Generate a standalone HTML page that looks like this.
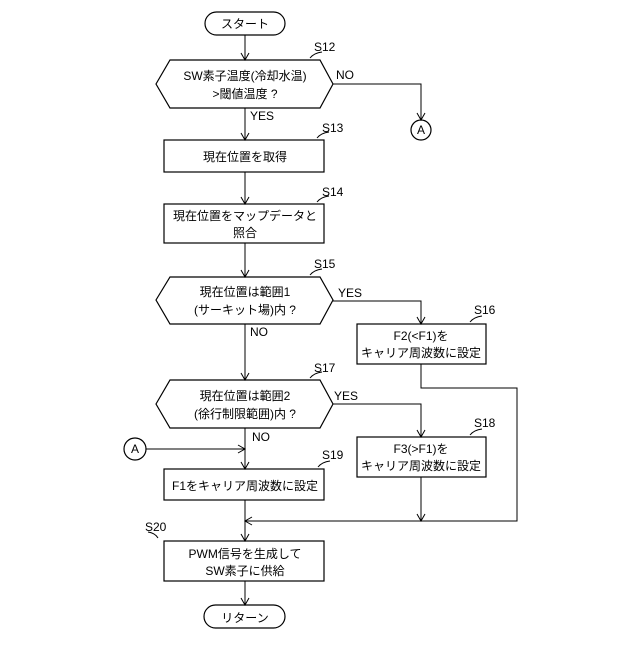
<!DOCTYPE html>
<html><head><meta charset="utf-8"><style>
body{margin:0;background:#fff}
text{font-family:"Liberation Sans","Noto Sans CJK JP",sans-serif;font-size:12px;fill:#000}
.s{font-size:12px}
</style></head><body>
<svg width="640" height="640" viewBox="0 0 640 640" xmlns="http://www.w3.org/2000/svg">
<defs><marker id="a" markerWidth="10" markerHeight="10" refX="9" refY="5" orient="auto" markerUnits="userSpaceOnUse"><path d="M2,1 L9,5 L2,9" fill="none" stroke="#000" stroke-width="1"/></marker></defs>
<g fill="none" stroke="#000" stroke-width="1.2">
<rect x="205" y="12" width="80" height="23" rx="11.5"/>
<polygon points="156,84 170,60 320,60 333,84 320,108 170,108"/>
<rect x="164" y="140" width="160" height="32"/>
<rect x="164" y="204" width="160" height="39"/>
<polygon points="156,300 170,277 320,277 333,300 320,324 170,324"/>
<rect x="357" y="324" width="129" height="40"/>
<polygon points="156,404 170,380 320,380 333,404 320,428 170,428"/>
<rect x="357" y="437" width="129" height="40"/>
<rect x="164" y="469" width="160" height="31"/>
<rect x="164" y="541" width="160" height="40"/>
<rect x="204" y="605" width="81" height="23" rx="11.5"/>
<circle cx="421" cy="130" r="10"/>
<circle cx="135" cy="449" r="11"/>
</g>
<g fill="none" stroke="#000" stroke-width="1">
<path d="M245,35V60" marker-end="url(#a)"/>
<path d="M245,108V140" marker-end="url(#a)"/>
<path d="M245,172V204" marker-end="url(#a)"/>
<path d="M245,243V277" marker-end="url(#a)"/>
<path d="M245,324V380" marker-end="url(#a)"/>
<path d="M245,428V469" marker-end="url(#a)"/>
<path d="M245,500V541" marker-end="url(#a)"/>
<path d="M245,581V605" marker-end="url(#a)"/>
<path d="M333,84H421V120" marker-end="url(#a)"/>
<path d="M333,301H421V324" marker-end="url(#a)"/>
<path d="M333,404H421V437" marker-end="url(#a)"/>
<path d="M146,449H245" marker-end="url(#a)"/>
<path d="M421,477V521" marker-end="url(#a)"/>
<path d="M421,364V388H517V521H245" marker-end="url(#a)"/>
<path d="M310,58 q4,-5 12,-6 M317,138 q4,-5 12,-6 M317,202 q4,-5 12,-6 M310,275 q4,-5 12,-6 M470,322 q4,-5 12,-6 M310,378 q4,-5 12,-6 M470,435 q4,-5 12,-6 M318,467 q4,-5 12,-6 M158,538 q-3,-5 -10,-6"/>
</g>
<text x="245" y="28" text-anchor="middle">スタート</text>
<text x="245" y="80" text-anchor="middle">SW素子温度(冷却水温)</text>
<text x="245" y="98" text-anchor="middle">&gt;閾値温度 ?</text>
<text x="245" y="161" text-anchor="middle">現在位置を取得</text>
<text x="245" y="220" text-anchor="middle">現在位置をマップデータと</text>
<text x="245" y="237" text-anchor="middle">照合</text>
<text x="245" y="296" text-anchor="middle">現在位置は範囲1</text>
<text x="245" y="314" text-anchor="middle">(サーキット場)内 ?</text>
<text x="421" y="340" text-anchor="middle">F2(&lt;F1)を</text>
<text x="421" y="357" text-anchor="middle">キャリア周波数に設定</text>
<text x="245" y="400" text-anchor="middle">現在位置は範囲2</text>
<text x="245" y="418" text-anchor="middle">(徐行制限範囲)内 ?</text>
<text x="421" y="453" text-anchor="middle">F3(&gt;F1)を</text>
<text x="421" y="470" text-anchor="middle">キャリア周波数に設定</text>
<text x="245" y="490" text-anchor="middle">F1をキャリア周波数に設定</text>
<text x="245" y="558" text-anchor="middle">PWM信号を生成して</text>
<text x="245" y="575" text-anchor="middle">SW素子に供給</text>
<text x="245" y="622" text-anchor="middle">リターン</text>
<text x="421" y="134" text-anchor="middle" class="s">A</text>
<text x="135" y="453" text-anchor="middle" class="s">A</text>
<text x="250" y="120" class="s">YES</text>
<text x="336" y="79" class="s">NO</text>
<text x="338" y="297" class="s">YES</text>
<text x="250" y="336" class="s">NO</text>
<text x="334" y="400" class="s">YES</text>
<text x="252" y="441" class="s">NO</text>
<text x="314" y="51" class="s">S12</text>
<text x="322" y="132" class="s">S13</text>
<text x="322" y="196" class="s">S14</text>
<text x="314" y="268" class="s">S15</text>
<text x="474" y="314" class="s">S16</text>
<text x="314" y="372" class="s">S17</text>
<text x="474" y="427" class="s">S18</text>
<text x="322" y="459" class="s">S19</text>
<text x="145" y="531" class="s">S20</text>
</svg>
</body></html>
